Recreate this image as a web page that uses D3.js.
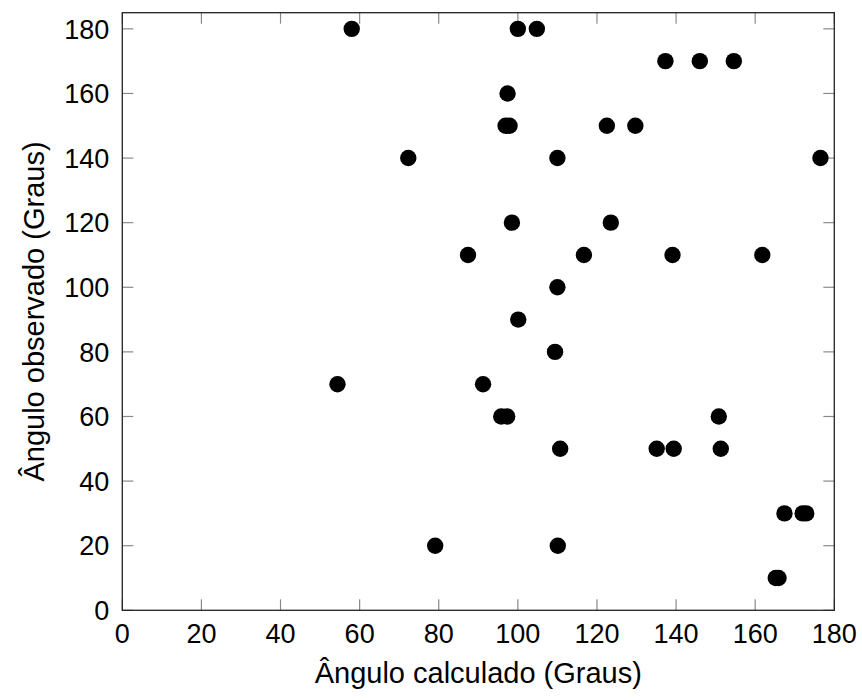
<!DOCTYPE html>
<html>
<head>
<meta charset="utf-8">
<script src="https://cdn.jsdelivr.net/npm/d3@7"></script>
<style>
    body { margin: 0; background: #fff; }
    #graph text { font-family: "Liberation Sans", Arial, sans-serif; fill: #000; }
</style>
</head>
<body>
<div id="graph"></div>
<script>
// Calculated vs observed angle (degrees)
const calculado = [58, 100, 104.8, 137.3, 146, 154.6, 97.4, 96.9, 97.9, 122.5, 129.7,
    72.3, 110, 176.5, 98.5, 123.5, 87.4, 116.7, 139.1, 161.8, 110, 100.1, 109.4,
    54.4, 91.2, 95.8, 97.3, 150.8, 110.7, 135.1, 139.4, 151.3, 79.1, 110.1,
    167.4, 172, 172.9, 165.2, 165.9];
const observado = [180, 180, 180, 170, 170, 170, 160, 150, 150, 150, 150,
    140, 140, 140, 120, 120, 110, 110, 110, 110, 100, 90, 80,
    70, 70, 60, 60, 60, 50, 50, 50, 50, 20, 20,
    30, 30, 30, 10, 10];
const xTicks = [0, 20, 40, 60, 80, 100, 120, 140, 160, 180];
const yTicks = [0, 20, 40, 60, 80, 100, 120, 140, 160, 180];

const xLabel = "Ângulo calculado (Graus)";
const yLabel = "Ângulo observado (Graus)";

function drawChart() {
    let width = 862, height = 700;
    let left = 122.3, right = 834.3, top = 12.7, bottom = 610.3;
    let tickLen = 11;

    let svg = d3.select("#graph").append("svg")
        .attr("width", width)
        .attr("height", height);

    let x = d3.scaleLinear().domain([0, 180]).range([left, right]);
    let y = d3.scaleLinear().domain([0, 185]).range([bottom, top]);

    // ticks on all four sides, pointing inward
    let ticks = svg.append("g").attr("stroke", "#8a8a8a").attr("stroke-width", 1.2);
    xTicks.forEach(function(t) {
        ticks.append("line").attr("x1", x(t)).attr("x2", x(t)).attr("y1", bottom).attr("y2", bottom - tickLen);
        ticks.append("line").attr("x1", x(t)).attr("x2", x(t)).attr("y1", top).attr("y2", top + tickLen);
    });
    yTicks.forEach(function(t) {
        ticks.append("line").attr("x1", left).attr("x2", left + tickLen).attr("y1", y(t)).attr("y2", y(t));
        ticks.append("line").attr("x1", right).attr("x2", right - tickLen).attr("y1", y(t)).attr("y2", y(t));
    });

    // frame
    svg.append("rect")
        .attr("x", left).attr("y", top)
        .attr("width", right - left).attr("height", bottom - top)
        .attr("fill", "none")
        .attr("stroke", "#222")
        .attr("stroke-width", 1.3);

    // tick labels
    svg.append("g").selectAll("text").data(xTicks).enter().append("text")
        .attr("x", d => x(d))
        .attr("y", bottom + 33)
        .attr("text-anchor", "middle")
        .attr("font-size", 27)
        .text(d => d);

    svg.append("g").selectAll("text").data(yTicks).enter().append("text")
        .attr("x", left - 13)
        .attr("y", d => y(d))
        .attr("dy", "0.36em")
        .attr("text-anchor", "end")
        .attr("font-size", 27)
        .text(d => d);

    // axis titles
    svg.append("text")
        .attr("x", (left + right) / 2)
        .attr("y", 683)
        .attr("text-anchor", "middle")
        .attr("font-size", 29)
        .text(xLabel);

    svg.append("text")
        .attr("transform", "translate(44," + ((top + bottom) / 2) + ") rotate(-90)")
        .attr("text-anchor", "middle")
        .attr("font-size", 29)
        .text(yLabel);

    // points
    let data = calculado.map((c, i) => ({ x: c, y: observado[i] }));
    svg.append("g").selectAll("circle").data(data).enter().append("circle")
        .attr("cx", d => x(d.x))
        .attr("cy", d => y(d.y))
        .attr("r", 8.2)
        .attr("fill", "#000");
}

drawChart();
</script>
</body>
</html>
